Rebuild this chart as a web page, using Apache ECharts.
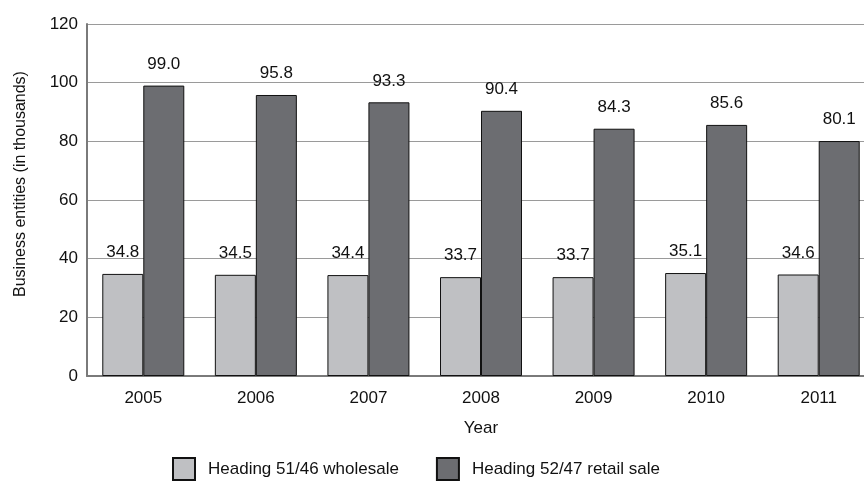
<!DOCTYPE html>
<html>
<head>
<meta charset="utf-8">
<script src="https://cdn.jsdelivr.net/npm/echarts@6/dist/echarts.min.js"></script>
<style>
  html, body { margin: 0; padding: 0; background: #fff; }
  #chart { width: 864px; height: 488px; }
</style>
</head>
<body>
<div id="chart"></div>
<script>
// Business entities by year (in thousands)
const years = ['2005', '2006', '2007', '2008', '2009', '2010', '2011'];
const wholesale = [34.8, 34.5, 34.4, 33.7, 33.7, 35.1, 34.6];
const retail = [99.0, 95.8, 93.3, 90.4, 84.3, 85.6, 80.1];
const seriesNames = ['Heading 51/46 wholesale', 'Heading 52/47 retail sale'];
const yTicks = { min: 0, max: 120, interval: 20 };

const FONT = 'Liberation Sans, Arial, sans-serif';
const chart = echarts.init(document.getElementById('chart'));

const barLabel = {
  show: true,
  position: 'top',
  distance: 13,
  color: '#111',
  fontFamily: FONT,
  fontSize: 17,
  formatter: p => p.value.toFixed(1)
};

chart.setOption({
  animation: false,
  backgroundColor: '#fff',
  // plot area runs slightly past the right edge of the canvas
  grid: { left: 87, right: -11, top: 24, bottom: 112, containLabel: false, outerBoundsMode: 'none' },
  legend: {
    left: 167,
    top: 452,
    itemWidth: 22,
    itemHeight: 22,
    itemGap: 37,
    icon: 'rect',
    textStyle: { fontFamily: FONT, fontSize: 17, color: '#111', padding: [0, 0, 0, 8] },
    data: seriesNames
  },
  xAxis: {
    type: 'category',
    data: years,
    name: 'Year',
    nameLocation: 'middle',
    nameGap: 44,
    nameTextStyle: { fontFamily: FONT, fontSize: 17, color: '#111' },
    axisLine: { lineStyle: { color: '#7a7a7a', width: 2 } },
    axisTick: { show: false },
    axisLabel: { fontFamily: FONT, fontSize: 17, color: '#111', margin: 14 }
  },
  yAxis: {
    type: 'value',
    min: yTicks.min,
    max: yTicks.max,
    interval: yTicks.interval,
    name: 'Business entities (in thousands)',
    nameLocation: 'middle',
    nameGap: 58,
    nameRotate: 90,
    // left padding lifts the rotated title a little above the plot's middle
    nameTextStyle: { fontFamily: FONT, fontSize: 16, color: '#111', padding: [0, 0, 0, 32] },
    axisLine: { show: true, lineStyle: { color: '#7a7a7a', width: 2 } },
    axisTick: { show: false },
    axisLabel: { fontFamily: FONT, fontSize: 17, color: '#111', margin: 9 },
    splitLine: { lineStyle: { color: '#9a9a9a', width: 1 } }
  },
  series: [
    {
      name: seriesNames[0],
      type: 'bar',
      data: wholesale,
      barWidth: 41,
      barGap: '0%',
      itemStyle: { color: '#bfc0c3', borderColor: '#111', borderWidth: 1 },
      label: barLabel
    },
    {
      name: seriesNames[1],
      type: 'bar',
      data: retail,
      barWidth: 41,
      barGap: '0%',
      itemStyle: { color: '#6c6d71', borderColor: '#111', borderWidth: 1 },
      label: barLabel
    }
  ]
});
</script>
</body>
</html>
